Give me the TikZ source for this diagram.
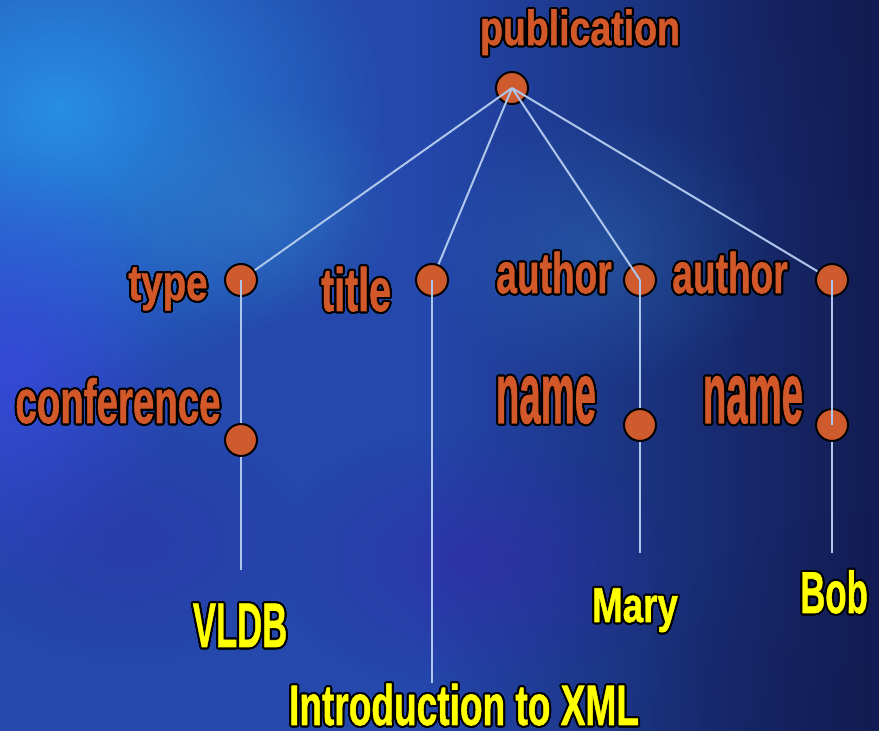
\documentclass[tikz,border=0pt]{standalone}
\usepackage{fontspec}
\setmainfont{Liberation Sans}
\newfontfamily\heavy[FakeBold=1.2]{Liberation Sans Bold}
\usepackage{contour}
\usetikzlibrary{fadings}
\contourlength{1pt}
\contournumber{24}
\definecolor{lblc}{RGB}{210,88,42}
\definecolor{dotc}{RGB}{206,90,45}
\definecolor{yelc}{RGB}{255,255,0}
\definecolor{edgec}{RGB}{175,198,235}
\definecolor{basec}{RGB}{36,72,172}
\definecolor{darkc}{RGB}{18,28,82}
\definecolor{cyanc}{RGB}{40,150,235}
\definecolor{vividc}{RGB}{60,72,232}
\definecolor{tealc}{RGB}{50,130,200}
\definecolor{purpc}{RGB}{52,40,168}
\tikzfading[name=radfade, inner color=transparent!0, outer color=transparent!100]
\tikzfading[name=rightfade, left color=transparent!100, right color=transparent!0]
\newcommand\lbltext[3]{\fontsize{#1}{#1}\heavy\contour{black}{\scalebox{#2}[1]{#3}}}
\begin{document}
\begin{tikzpicture}[x=0.5pt,y=-0.5pt,
  dot/.style={circle, fill=dotc, draw=black, line width=1pt, minimum size=16pt, inner sep=0pt},
  lab/.style={inner sep=0pt, anchor=base, text=lblc},
  leaf/.style={inner sep=0pt, anchor=base, text=yelc},
  edge/.style={draw=edgec, line width=1pt}]
\useasboundingbox (0,0) rectangle (879,731);
% background
\fill[basec] (0,0) rectangle (879,731);
\fill[darkc, path fading=rightfade] (420,0) rectangle (879,731);
\fill[cyanc, opacity=0.9, path fading=radfade] (60,110) ellipse (330 and 280);
\fill[vividc, opacity=0.7, path fading=radfade] (10,370) ellipse (170 and 220);
\fill[tealc, opacity=0.5, path fading=radfade] (260,210) ellipse (150 and 120);
\fill[tealc, opacity=0.35, path fading=radfade] (600,250) ellipse (180 and 140);
\fill[purpc, opacity=0.6, path fading=radfade] (470,560) ellipse (200 and 130);
\fill[purpc, opacity=0.4, path fading=radfade] (130,540) ellipse (180 and 120);
\fill[darkc, opacity=0.5, path fading=radfade] (879,0) ellipse (200 and 200);
\fill[darkc, opacity=0.5, path fading=radfade] (879,731) ellipse (250 and 220);
% dots
\node[dot] (pub) at (512,88) {};
\node[dot] (typ) at (241,280) {};
\node[dot] (tit) at (432,280) {};
\node[dot] (auA) at (640,280) {};
\node[dot] (auB) at (832,280) {};
\node[dot] (conf) at (241,440) {};
\node[dot] (nmA) at (640,425) {};
\node[dot] (nmB) at (832,425) {};
\coordinate (vldbend) at (241,570);
\coordinate (titend) at (432,683);
\coordinate (maryend) at (640,553);
\coordinate (bobend) at (832,553);
% edges
\draw[edge] (pub.center) -- (typ);
\draw[edge] (pub.center) -- (tit);
\draw[edge] (pub.center) -- (auA.center);
\draw[edge] (pub.center) -- (auB);
\draw[edge] (typ.center) -- (conf);
\draw[edge] (conf.south) -- (vldbend);
\draw[edge] (tit.center) -- (titend);
\draw[edge] (auA.center) -- (nmA.north);
\draw[edge] (nmA.south) -- (maryend);
\draw[edge] (auB.center) -- (nmB.center);
\draw[edge] (nmB.south) -- (bobend);
% labels
\node[lab] (lpub) at (580,45) {\lbltext{24.5pt}{0.765}{publication}};
\node[lab] (ltyp) at (168,300) {\lbltext{25pt}{0.77}{type}};
\node[lab] (ltit) at (356,311) {\lbltext{30.5pt}{0.645}{title}};
\node[lab] (lauA) at (554,293) {\lbltext{28.5pt}{0.65}{author}};
\node[lab] (lauB) at (730,293) {\lbltext{28.5pt}{0.65}{author}};
\node[lab] (lconf) at (118,423) {\lbltext{31pt}{0.62}{conference}};
\node[lab] (lnmA) at (546,423) {\lbltext{43.5pt}{0.44}{name}};
\node[lab] (lnmB) at (753,423) {\lbltext{43.5pt}{0.44}{name}};
\node[leaf] (lvldb) at (240,647) {\lbltext{31.5pt}{0.55}{VLDB}};
\node[leaf] (lmary) at (635,622) {\lbltext{24.5pt}{0.75}{Mary}};
\node[leaf] (lbob) at (834,613) {\lbltext{29.5pt}{0.59}{Bob}};
\node[leaf] (lxml) at (464,725) {\lbltext{28.5pt}{0.65}{Introduction to XML}};
\end{tikzpicture}
\end{document}
